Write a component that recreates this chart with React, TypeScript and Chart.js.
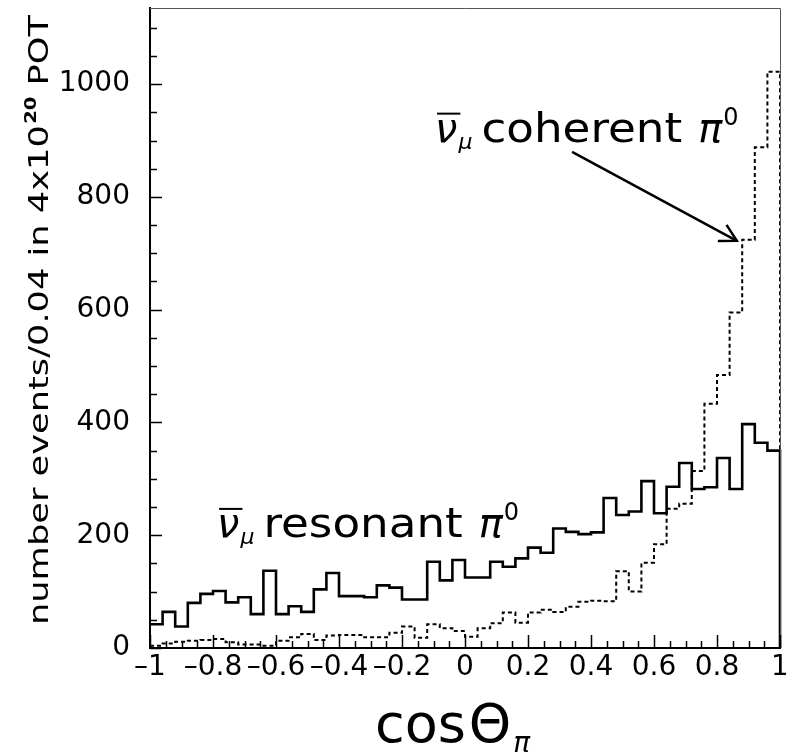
import React, { useEffect, useRef } from 'react';
import { Chart, registerables } from 'chart.js';

Chart.register(...registerables);

// ---- data ----
const BIN_LOW = -1;
const BIN_WIDTH = 0.04;
const RESONANT = [42, 64, 38, 80, 96, 101, 81, 90, 60, 137, 60, 74, 64, 104, 133, 92, 92, 90, 111, 107, 86, 86, 153, 120, 156, 125, 125, 153, 144, 159, 178, 169, 212, 206, 202, 205, 266, 236, 242, 296, 239, 286, 328, 282, 285, 337, 282, 397, 364, 350];
const COHERENT = [4, 8, 11, 13, 14, 16, 10, 6, 6, 4, 13, 19, 25, 14, 22, 23, 23, 19, 19, 27, 38, 18, 42, 35, 30, 20, 35, 44, 63, 45, 63, 68, 64, 73, 82, 84, 83, 136, 100, 151, 184, 247, 256, 314, 433, 484, 595, 724, 888, 1022];
const X_TICKS = [-1, -0.8, -0.6, -0.4, -0.2, 0, 0.2, 0.4, 0.6, 0.8, 1];
const X_TICK_LABELS = ['\u20131', '\u20130.8', '\u20130.6', '\u20130.4', '\u20130.2', '0', '0.2', '0.4', '0.6', '0.8', '1'];
const X_MIN = -1;
const X_MAX = 1;
const X_MINOR_STEP = 0.05;
const Y_TICKS = [0, 200, 400, 600, 800, 1000];
const Y_TICK_LABELS = ['0', '200', '400', '600', '800', '1000'];
const Y_MIN = 0;
const Y_MAX = 1135;
const Y_MINOR_STEP = 50;

const Y_TITLE_MAIN = 'number events/0.04 in 4x10';
const Y_TITLE_SUP = '20';
const Y_TITLE_END = ' POT';
const RESONANT_LABEL = { x: -0.787, y: 197, word: 'resonant' };
const COHERENT_LABEL = { x: -0.095, y: 898, word: 'coherent' };
const ARROW = { fromX: 0.34, fromY: 880, toX: 0.863, toY: 722 };

const FONT = '"DejaVu Sans"';

function histPoints(values: number[]) {
  const pts = values.map((v, i) => ({ x: Math.round((BIN_LOW + i * BIN_WIDTH) * 1000) / 1000, y: v }));
  const hi = Math.round((BIN_LOW + values.length * BIN_WIDTH) * 1000) / 1000;
  pts.push({ x: hi, y: values[values.length - 1] });
  pts.push({ x: hi, y: 0 });
  return pts;
}

function drawNuLabel(ctx: CanvasRenderingContext2D, x: number, y: number, word: string) {
  ctx.fillStyle = '#000';
  ctx.strokeStyle = '#000';
  ctx.textBaseline = 'alphabetic';
  ctx.textAlign = 'left';
  ctx.font = `italic 40px ${FONT}`;
  const nuW = ctx.measureText('\u03bd').width;
  ctx.fillText('\u03bd', x, y);
  ctx.lineWidth = 2;
  ctx.beginPath();
  ctx.moveTo(x + 2, y - 28);
  ctx.lineTo(x + nuW + 3, y - 28);
  ctx.stroke();
  let cx = x + nuW + 1;
  ctx.font = `italic 22px ${FONT}`;
  ctx.fillText('\u03bc', cx, y + 7);
  cx += ctx.measureText('\u03bc').width + 9;
  ctx.font = `40px ${FONT}`;
  const sxw = 1.13;
  const ww = ctx.measureText(word).width * sxw;
  ctx.save();
  ctx.translate(cx, y);
  ctx.scale(sxw, 1);
  ctx.fillText(word, 0, 0);
  ctx.restore();
  cx += ww + 16;
  ctx.font = `italic 40px ${FONT}`;
  ctx.fillText('\u03c0', cx, y);
  cx += ctx.measureText('\u03c0').width + 1;
  ctx.font = `24px ${FONT}`;
  ctx.fillText('0', cx, y - 17);
}

const rootStyle = {
  id: 'rootStyle',
  afterDraw(chart: any) {
    const { ctx, chartArea: a, scales } = chart;
    const xs = scales.x;
    const ys = scales.y;
    ctx.save();
    // frame (top & right)
    ctx.strokeStyle = '#555';
    ctx.lineWidth = 1;
    ctx.beginPath();
    ctx.moveTo(a.left, a.top + 0.5);
    ctx.lineTo(a.right + 0.5, a.top + 0.5);
    ctx.lineTo(a.right + 0.5, a.bottom);
    ctx.stroke();

    // inward ticks
    ctx.strokeStyle = '#000';
    ctx.lineWidth = 1.5;
    const nx = Math.round((X_MAX - X_MIN) / X_MINOR_STEP);
    for (let i = 0; i <= nx; i++) {
      const v = X_MIN + i * X_MINOR_STEP;
      const major = X_TICKS.some((t) => Math.abs(t - v) < 1e-6);
      const px = Math.round(xs.getPixelForValue(v)) + 0.5;
      ctx.beginPath();
      ctx.moveTo(px, a.bottom);
      ctx.lineTo(px, a.bottom - (major ? 13 : 7));
      ctx.stroke();
    }
    const ny = Math.floor((Y_MAX - Y_MIN) / Y_MINOR_STEP);
    for (let i = 0; i <= ny; i++) {
      const v = Y_MIN + i * Y_MINOR_STEP;
      const major = Y_TICKS.includes(v);
      const py = Math.round(ys.getPixelForValue(v)) + 0.5;
      ctx.beginPath();
      ctx.moveTo(a.left, py);
      ctx.lineTo(a.left + (major ? 12 : 7), py);
      ctx.stroke();
    }

    // y title (rotated)
    ctx.fillStyle = '#000';
    ctx.save();
    ctx.translate(48, 625);
    ctx.rotate(-Math.PI / 2);
    ctx.textAlign = 'left';
    ctx.textBaseline = 'alphabetic';
    ctx.font = `27px ${FONT}`;
    const w1 = ctx.measureText(Y_TITLE_MAIN).width;
    ctx.font = `bold 15px ${FONT}`;
    const w2 = ctx.measureText(Y_TITLE_SUP).width;
    ctx.font = `27px ${FONT}`;
    const w3 = ctx.measureText(Y_TITLE_END).width;
    const sx = 610 / (w1 + w2 + 1 + w3);
    ctx.scale(sx, 1);
    ctx.fillText(Y_TITLE_MAIN, 0, 0);
    ctx.font = `bold 15px ${FONT}`;
    ctx.fillText(Y_TITLE_SUP, w1 + 1, -12);
    ctx.font = `27px ${FONT}`;
    ctx.fillText(Y_TITLE_END, w1 + w2 + 1, 0);
    ctx.restore();

    // x title
    ctx.textAlign = 'left';
    ctx.textBaseline = 'alphabetic';
    ctx.font = `54px ${FONT}`;
    let tx = a.left + 225;
    const tb = 742;
    ctx.fillText('cos', tx, tb);
    tx += ctx.measureText('cos').width + 3;
    ctx.fillText('\u0398', tx, tb);
    tx += ctx.measureText('\u0398').width + 2;
    ctx.font = `italic 28px ${FONT}`;
    ctx.fillText('\u03c0', tx, tb + 10);

    // annotations
    drawNuLabel(ctx, xs.getPixelForValue(RESONANT_LABEL.x), ys.getPixelForValue(RESONANT_LABEL.y), RESONANT_LABEL.word);
    drawNuLabel(ctx, xs.getPixelForValue(COHERENT_LABEL.x), ys.getPixelForValue(COHERENT_LABEL.y), COHERENT_LABEL.word);

    // arrow
    const x0 = xs.getPixelForValue(ARROW.fromX);
    const y0 = ys.getPixelForValue(ARROW.fromY);
    const x1 = xs.getPixelForValue(ARROW.toX);
    const y1 = ys.getPixelForValue(ARROW.toY);
    ctx.strokeStyle = '#000';
    ctx.lineWidth = 2.5;
    ctx.beginPath();
    ctx.moveTo(x0, y0);
    ctx.lineTo(x1, y1);
    ctx.stroke();
    const ang = Math.atan2(y1 - y0, x1 - x0);
    const head = 19;
    const spread = 0.5;
    ctx.beginPath();
    ctx.moveTo(x1 - head * Math.cos(ang - spread), y1 - head * Math.sin(ang - spread));
    ctx.lineTo(x1, y1);
    ctx.lineTo(x1 - head * Math.cos(ang + spread), y1 - head * Math.sin(ang + spread));
    ctx.stroke();
    ctx.restore();
  },
};

export default function App() {
  const ref = useRef<HTMLCanvasElement | null>(null);
  useEffect(() => {
    if (!ref.current) return;
    const chart = new Chart(ref.current, {
      type: 'line',
      data: {
        datasets: [
          {
            label: 'coherent',
            data: histPoints(COHERENT),
            stepped: 'before',
            borderColor: '#000',
            borderWidth: 2,
            borderDash: [4, 3],
            pointRadius: 0,
            fill: false,
            clip: 6,
          },
          {
            label: 'resonant',
            data: histPoints(RESONANT),
            stepped: 'before',
            borderColor: '#000',
            borderWidth: 2.6,
            pointRadius: 0,
            fill: false,
            clip: 6,
          },
        ],
      },
      options: {
        animation: false,
        responsive: false,
        devicePixelRatio: 1,
        layout: { padding: { left: 0, right: 6, top: 8, bottom: 0 } },
        plugins: { legend: { display: false }, tooltip: { enabled: false } },
        parsing: false,
        scales: {
          x: {
            type: 'linear',
            min: X_MIN,
            max: X_MAX,
            afterBuildTicks: (s: any) => {
              s.ticks = X_TICKS.map((v) => ({ value: v }));
            },
            afterFit: (s: any) => {
              s.height = 107;
              s.paddingLeft = 0;
              s.paddingRight = 0;
            },
            ticks: {
              autoSkip: false,
              maxRotation: 0,
              minRotation: 0,
              padding: 3,
              color: '#000',
              font: { family: 'DejaVu Sans', size: 28 },
              callback: (_v: any, i: number) => X_TICK_LABELS[i],
            },
            grid: { display: false, drawTicks: false },
            border: { display: true, color: '#000', width: 2 },
          },
          y: {
            type: 'linear',
            min: Y_MIN,
            max: Y_MAX,
            afterBuildTicks: (s: any) => {
              s.ticks = Y_TICKS.map((v) => ({ value: v }));
            },
            afterFit: (s: any) => {
              s.width = 150;
              s.paddingTop = 0;
              s.paddingBottom = 0;
            },
            ticks: {
              padding: 20,
              color: '#000',
              font: { family: 'DejaVu Sans', size: 28 },
              callback: (_v: any, i: number) => Y_TICK_LABELS[i],
            },
            grid: { display: false, drawTicks: false },
            border: { display: true, color: '#000', width: 2 },
          },
        },
      },
      plugins: [rootStyle],
    });
    return () => chart.destroy();
  }, []);
  return (
    <div style={{ position: 'fixed', left: 0, top: 0, width: 786, height: 755, background: '#fff' }}>
      <canvas ref={ref} width={786} height={755} style={{ width: 786, height: 755 }} />
    </div>
  );
}
